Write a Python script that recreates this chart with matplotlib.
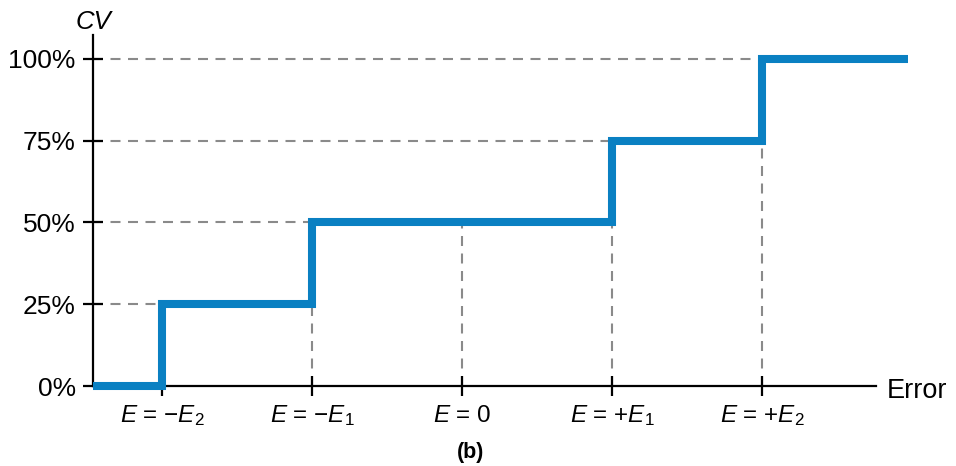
import matplotlib
matplotlib.use("Agg")
import matplotlib.pyplot as plt

plt.rcParams['font.family'] = ['Liberation Sans', 'DejaVu Sans']
plt.rcParams['mathtext.fontset'] = 'custom'
plt.rcParams['mathtext.it'] = 'Liberation Sans:italic'
plt.rcParams['mathtext.rm'] = 'Liberation Sans'

# Data
step_x = [-2.46, -2, -1, 1, 2, 2.973]          # step edges (error positions)
step_y = [0, 25, 50, 75, 100]                   # CV level on each interval
x_ticks = [-2, -1, 0, 1, 2]
x_labels = ["$E$ = −$E_{2}$", "$E$ = −$E_{1}$", "$E$ = 0", "$E$ = +$E_{1}$", "$E$ = +$E_{2}$"]
y_ticks = [0, 25, 50, 75, 100]
y_labels = ["0%", "25%", "50%", "75%", "100%"]
# dashed guides: horizontal guide to the step, vertical guide up to the curve
h_guides = [(25, -2), (50, -1), (75, 1), (100, 2)]
v_guides = [(-1, 25), (0, 50), (1, 50), (2, 75)]

blue = "#0a80c2"
gray = "#8a8a8a"
dash = (0, (4.8, 3.6))

fig = plt.figure(figsize=(9.56, 4.66), dpi=100)
ax = fig.add_axes([93/956, (466-386)/466, 815/956, 351/466])
ax.set_xlim(step_x[0], step_x[-1])
ax.set_ylim(0, 107.3)

# dashed guides
for yv, xe in h_guides:
    ax.plot([step_x[0], xe], [yv, yv], color=gray, lw=1.5, ls=dash, zorder=1)
for xv, ye in v_guides:
    ax.plot([xv, xv], [0, ye], color=gray, lw=1.5, ls=dash, zorder=1)

# step curve
ax.stairs(step_y, step_x, color=blue, lw=5.8, baseline=None, zorder=3, clip_on=False)

for s in ['top', 'right']:
    ax.spines[s].set_visible(False)
ax.spines['left'].set_linewidth(1.6)
ax.spines['bottom'].set_linewidth(1.6)
ax.spines['bottom'].set_bounds(step_x[0], 2.76)

ax.set_xticks(x_ticks)
ax.set_xticklabels(x_labels, fontsize=17.5)
for lab in ax.get_xticklabels():
    lab.set_verticalalignment('baseline')
ax.set_yticks(y_ticks)
ax.set_yticklabels(y_labels, fontsize=19)
ax.tick_params(axis='both', direction='inout', length=15, width=1.6, color='black')
ax.tick_params(axis='x', pad=18.2)
ax.tick_params(axis='y', pad=5)

fig.text(93/956, 1 - 29/466, "CV", fontsize=18.5, style='italic', ha='center', va='baseline')
fig.text(887/956, 1 - 398/466, "Error", fontsize=19.5, ha='left', va='baseline')
fig.text(471/956, 1 - 458/466, "(b)", fontsize=15.5, fontweight='bold', ha='center', va='baseline')

fig.savefig("out.png", dpi=100)
